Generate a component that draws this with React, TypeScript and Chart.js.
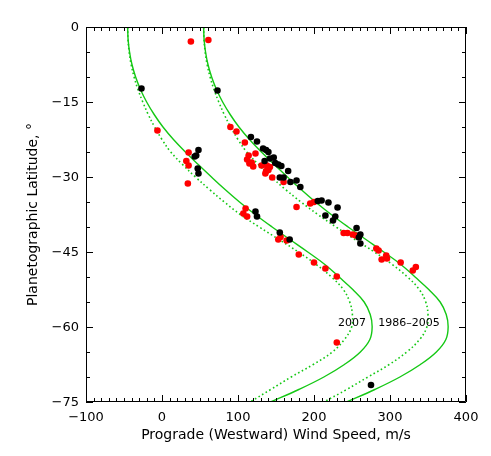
import React, { useEffect, useRef } from 'react';
import { Chart, registerables } from 'chart.js';

Chart.register(...registerables);

// ---- data ----
const xTicks = [-100, 0, 100, 200, 300, 400];
const yTicks = [-75, -60, -45, -30, -15, 0];

const redSpeed = [38, 61, -6, 90, 98, 109, 35, 32, 35, 34, 123, 114, 112, 115, 118, 120, 131, 138, 142, 137, 136, 145, 160, 177, 195, 200, 110, 107, 112, 153, 156, 164, 180, 200, 215, 230, 230, 239, 244, 251, 255, 282, 285, 295, 296, 289, 314, 330, 334, 140];
const redLat = [-2.9, -2.6, -20.7, -20.0, -20.9, -23.1, -25.1, -26.8, -27.7, -31.3, -25.3, -25.7, -26.5, -27.3, -27.1, -27.9, -27.7, -27.7, -28.0, -28.8, -29.3, -30.1, -31.0, -36.0, -35.3, -35.0, -36.3, -37.3, -37.9, -42.5, -42.0, -42.7, -45.5, -47.1, -48.3, -49.9, -63.1, -41.2, -41.2, -41.5, -41.7, -44.3, -44.7, -45.7, -46.3, -46.5, -47.1, -48.7, -48.0, -28.6];

const blackSpeed = [-27, 73, 48, 45, 43, 47, 48, 117, 125, 133, 137, 140, 135, 142, 147, 149, 153, 157, 166, 155, 160, 169, 177, 182, 205, 210, 219, 231, 215, 228, 225, 256, 123, 125, 155, 168, 261, 259, 261, 275];
const blackLat = [-12.3, -12.7, -24.6, -25.7, -25.9, -28.3, -29.3, -22.0, -22.9, -24.3, -24.6, -25.0, -26.8, -26.3, -26.1, -27.2, -27.5, -27.8, -28.8, -30.1, -30.1, -31.0, -30.7, -32.0, -34.8, -34.7, -35.1, -36.1, -37.7, -37.9, -38.7, -40.2, -36.9, -37.9, -41.1, -42.5, -41.5, -42.1, -43.3, -71.6];

// model profiles, sampled every 2.5 degrees of latitude
const curveLat = [0, -2.5, -5, -7.5, -10, -12.5, -15, -17.5, -20, -22.5, -25, -27.5, -30, -32.5, -35, -37.5, -40, -42.5, -45, -47.5, -50, -52.5, -55, -57.5, -60, -62.5, -65, -67.5, -70, -72.5, -75];
const solid2007 = [-45.2, -44.6, -42.7, -39.5, -34.7, -28.3, -20.2, -10.3, 1.3, 15.1, 30.8, 47.7, 65.1, 83, 102, 122.6, 144.9, 168.3, 191.8, 214.3, 233, 251, 266, 274, 276.5, 273.5, 261, 240, 213, 180, 143];
const solid1986 = [54.8, 55.4, 57.3, 60.5, 65.3, 71.7, 79.8, 89.7, 101.3, 115.1, 130.8, 147.7, 165.1, 183, 202, 222.6, 244.9, 268.3, 291.8, 314.3, 333, 351, 366, 374, 376.5, 373.5, 361, 340, 313, 280, 243];
const dotted2007 = [-45.2, -44.7, -43.2, -40.6, -36.7, -31.6, -25.3, -18.1, -9.7, 0, 11.5, 27, 44, 62.5, 82, 103, 127.9, 153.9, 179.5, 203, 223, 238.5, 247, 250.5, 249.5, 240, 224, 199, 170, 143, 116];
const dotted1986 = [54.8, 55.3, 56.8, 59.4, 63.3, 68.4, 74.7, 81.9, 90.3, 100, 111.5, 127, 144, 162.5, 183, 205, 229, 254, 279.5, 303, 323, 338.5, 347, 350, 348.5, 339, 322, 299, 271, 243, 213];

const curveLabels = ['2007', '1986\u20132005'];
const xTitle = 'Prograde (Westward) Wind Speed, m/s';
const yTitle = 'Planetographic Latitude, \u00b0';

// ---- helpers ----
const pts = (xs: number[], ys: number[]) => xs.map((x, i) => ({ x, y: ys[i] }));
const fmt = (v: number | string) => {
  const n = Number(v);
  return n < 0 ? '\u2212' + Math.abs(n) : String(n);
};
const FONT = '"DejaVu Sans", "Liberation Sans", sans-serif';
const GREEN = 'rgb(20,200,20)';

const framePlugin = {
  id: 'idlFrame',
  afterDraw(chart: any) {
    const { ctx, chartArea, scales } = chart;
    const { left, right, top, bottom } = chartArea;
    const xs = scales.x;
    const ys = scales.y;
    ctx.save();
    ctx.strokeStyle = '#000';
    ctx.lineWidth = 1;
    ctx.beginPath();
    ctx.rect(left + 0.5, top + 0.5, right - left - 1, bottom - top - 1);
    ctx.stroke();
    ctx.beginPath();
    for (let v = -100; v <= 400; v += 10) {
      const major = v % 100 === 0;
      const len = major ? 7 : 4;
      const px = Math.round(xs.getPixelForValue(v)) + 0.5;
      ctx.moveTo(px, bottom);
      ctx.lineTo(px, bottom - len);
      ctx.moveTo(px, top);
      ctx.lineTo(px, top + len);
    }
    for (let v = -75; v <= 0; v += 5) {
      const major = v % 15 === 0;
      const len = major ? 7 : 4;
      const py = Math.round(ys.getPixelForValue(v)) + 0.5;
      ctx.moveTo(left, py);
      ctx.lineTo(left + len, py);
      ctx.moveTo(right, py);
      ctx.lineTo(right - len, py);
    }
    ctx.stroke();
    // curve labels
    ctx.fillStyle = '#000';
    ctx.font = `11px ${FONT}`;
    ctx.textAlign = 'center';
    ctx.textBaseline = 'middle';
    ctx.fillText(curveLabels[0], xs.getPixelForValue(250), ys.getPixelForValue(-59.3));
    ctx.fillText(curveLabels[1], xs.getPixelForValue(325), ys.getPixelForValue(-59.3));
    ctx.restore();
  },
};

export default function App() {
  const ref = useRef<HTMLCanvasElement>(null);
  useEffect(() => {
    document.body.style.margin = '0';
    const canvas = ref.current;
    if (!canvas) return;
    const lineBase = {
      type: 'scatter' as const,
      showLine: true,
      pointRadius: 0,
      borderColor: GREEN,
      backgroundColor: GREEN,
      borderWidth: 1.4,
      tension: 0.4,
      order: 3,
    };
    const chart = new Chart(canvas, {
      type: 'scatter',
      data: {
        datasets: [
          { ...lineBase, label: '2007 model', data: pts(solid2007, curveLat) },
          { ...lineBase, label: '1986-2005 model', data: pts(solid1986, curveLat) },
          { ...lineBase, label: '2007 model (alt)', data: pts(dotted2007, curveLat), borderWidth: 1.6, borderDash: [1.6, 2.6] },
          { ...lineBase, label: '1986-2005 model (alt)', data: pts(dotted1986, curveLat), borderWidth: 1.6, borderDash: [1.6, 2.6] },
          {
            label: 'red', data: pts(redSpeed, redLat), pointRadius: 3.3, pointBorderWidth: 0,
            backgroundColor: '#ff0000', borderColor: '#ff0000', order: 2,
          },
          {
            label: 'black', data: pts(blackSpeed, blackLat), pointRadius: 3.3, pointBorderWidth: 0,
            backgroundColor: '#000000', borderColor: '#000000', order: 1,
          },
        ],
      },
      options: {
        animation: false,
        responsive: false,
        events: [],
        layout: { padding: { left: 0, top: 27, right: 25, bottom: 0 } },
        plugins: { legend: { display: false }, tooltip: { enabled: false } },
        scales: {
          x: {
            type: 'linear',
            position: 'bottom',
            min: -100,
            max: 400,
            afterBuildTicks: (s: any) => { s.ticks = xTicks.map((v) => ({ value: v })); },
            afterFit: (s: any) => { s.height = 54; },
            grid: { display: false, drawTicks: false },
            border: { display: false },
            ticks: {
              padding: 8, color: '#000', autoSkip: false, maxRotation: 0,
              font: { family: FONT, size: 13 },
              callback: (v: any) => fmt(v),
            },
            title: {
              display: true, text: xTitle, color: '#000',
              font: { family: FONT, size: 14 },
              padding: { top: 0, bottom: 12.6 },
            },
          },
          y: {
            type: 'linear',
            position: 'left',
            min: -75,
            max: 0,
            afterBuildTicks: (s: any) => { s.ticks = yTicks.map((v) => ({ value: v })); },
            afterFit: (s: any) => { s.width = 86; },
            grid: { display: false, drawTicks: false },
            border: { display: false },
            ticks: {
              padding: 7, color: '#000', autoSkip: false, labelOffset: 1,
              font: { family: FONT, size: 13 },
              callback: (v: any) => fmt(v),
            },
            title: {
              display: true, text: yTitle, color: '#000',
              font: { family: FONT, size: 14 },
              padding: { top: 25, bottom: 0 },
            },
          },
        },
      },
      plugins: [framePlugin],
    } as any);
    return () => chart.destroy();
  }, []);
  return <canvas ref={ref} width={491} height={456} style={{ display: 'block' }} />;
}
